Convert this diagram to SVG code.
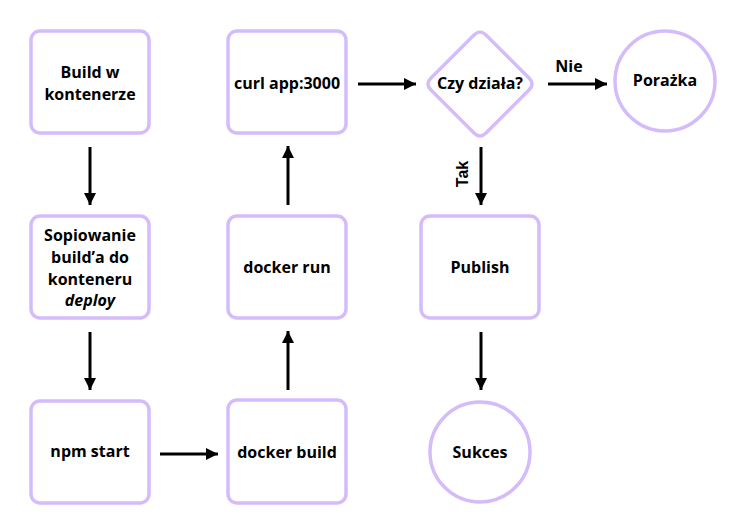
<svg xmlns="http://www.w3.org/2000/svg" width="739" height="531" viewBox="0 0 739 531">
<style>
.n{fill:#fff;stroke:#d4bcfb;stroke-width:3.5}
.t{font-family:"Open Sans","Noto Sans",sans-serif;font-weight:bold;font-size:16px;fill:#000;text-anchor:middle}
.c line{stroke:#000;stroke-width:3}
</style>
<defs>
<marker id="a" viewBox="0 0 10 10" refX="10" refY="5" markerWidth="4" markerHeight="4" markerUnits="strokeWidth" orient="auto">
<path d="M0,0 L10,5 L0,10 z" fill="#000"/>
</marker>
</defs>
<rect width="739" height="531" fill="#fff"/>
<g id="n1"><rect class="n" x="31" y="31" width="118" height="102" rx="9"/><text class="t" x="90" y="78">Build w</text><text class="t" x="90" y="100">kontenerze</text></g>
<g id="n2"><rect class="n" x="31" y="216" width="118" height="102" rx="9"/><text class="t" x="90" y="241">Sopiowanie</text><text class="t" x="90" y="263">build’a do</text><text class="t" x="90" y="285">konteneru</text><text class="t" x="90" y="306" font-style="italic">deploy</text></g>
<g id="n3"><rect class="n" x="31" y="401" width="118" height="102" rx="9"/><text class="t" x="90" y="457">npm start</text></g>
<g id="n4"><rect class="n" x="228" y="400" width="118" height="103" rx="9"/><text class="t" x="287" y="458">docker build</text></g>
<g id="n5"><rect class="n" x="228" y="216" width="118" height="102" rx="9"/><text class="t" x="287" y="273">docker run</text></g>
<g id="n6"><rect class="n" x="228" y="31" width="118" height="102" rx="9"/><text class="t" x="287" y="89">curl app:3000</text></g>
<g id="n7"><path class="n" d="M474,35 Q480,29 486,35 L529,78 Q535,84 529,90 L486,133 Q480,139 474,133 L431,90 Q425,84 431,78 Z"/><text class="t" x="480" y="89">Czy działa?</text></g>
<g id="n8"><circle class="n" cx="665" cy="81" r="50"/><text class="t" x="665" y="86">Porażka</text></g>
<g id="n9"><rect class="n" x="421" y="216" width="118" height="102" rx="9"/><text class="t" x="480" y="273">Publish</text></g>
<g id="n10"><circle class="n" cx="480" cy="452" r="50"/><text class="t" x="480" y="458">Sukces</text></g>
<g class="c" id="edges">
<line x1="90" y1="147" x2="90" y2="205" marker-end="url(#a)"/>
<line x1="90" y1="332" x2="90" y2="390" marker-end="url(#a)"/>
<line x1="160" y1="454" x2="218" y2="454" marker-end="url(#a)"/>
<line x1="288" y1="390" x2="288" y2="331" marker-end="url(#a)"/>
<line x1="288" y1="205" x2="288" y2="146" marker-end="url(#a)"/>
<line x1="358" y1="84" x2="416" y2="84" marker-end="url(#a)"/>
<line x1="548" y1="84" x2="607" y2="84" marker-end="url(#a)"/>
<line x1="481" y1="147" x2="481" y2="205" marker-end="url(#a)"/>
<line x1="481" y1="332" x2="481" y2="390" marker-end="url(#a)"/>
<text class="t" x="569" y="72">Nie</text>
<text class="t" transform="translate(468,174) rotate(-90)" style="font-family:'Liberation Sans',sans-serif">Tak</text>
</g>
</svg>
